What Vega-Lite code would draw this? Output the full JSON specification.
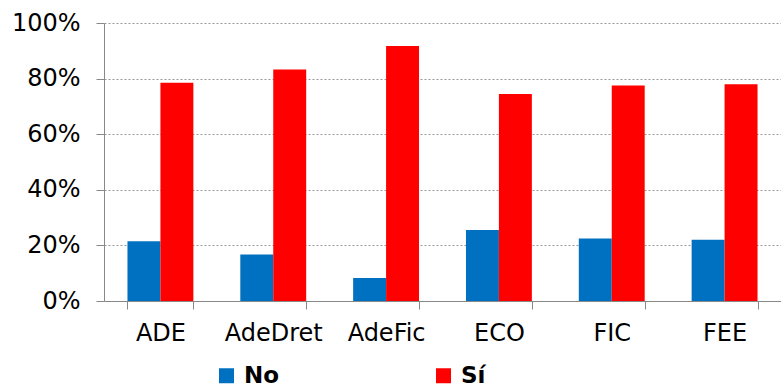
{
  "$schema": "https://vega.github.io/schema/vega-lite/v6.json",
  "width": 677,
  "height": 278,
  "autosize": {"type": "none"},
  "padding": {"left": 104, "top": 23, "right": 0, "bottom": 89},
  "config": {"view": {"stroke": null}, "font": "DejaVu Sans"},
  "data": {
    "values": [
      {"carrera": "ADE", "resp": "No", "pct": 0.215},
      {"carrera": "ADE", "resp": "Sí", "pct": 0.785},
      {"carrera": "AdeDret", "resp": "No", "pct": 0.167},
      {"carrera": "AdeDret", "resp": "Sí", "pct": 0.833},
      {"carrera": "AdeFic", "resp": "No", "pct": 0.083},
      {"carrera": "AdeFic", "resp": "Sí", "pct": 0.917},
      {"carrera": "ECO", "resp": "No", "pct": 0.255},
      {"carrera": "ECO", "resp": "Sí", "pct": 0.745},
      {"carrera": "FIC", "resp": "No", "pct": 0.225},
      {"carrera": "FIC", "resp": "Sí", "pct": 0.775},
      {"carrera": "FEE", "resp": "No", "pct": 0.22},
      {"carrera": "FEE", "resp": "Sí", "pct": 0.78}
    ]
  },
  "mark": {"type": "bar"},
  "encoding": {
    "x": {
      "field": "carrera",
      "type": "nominal",
      "sort": ["ADE", "AdeDret", "AdeFic", "ECO", "FIC", "FEE"],
      "scale": {"paddingInner": 0.416, "paddingOuter": 0.208},
      "axis": {
        "title": null,
        "labelAngle": 0,
        "tickBand": "extent",
        "labelFontSize": 24,
        "labelColor": "#000000",
        "domainColor": "#888888",
        "tickColor": "#888888",
        "tickSize": 8,
        "labelPadding": 12,
        "grid": false
      }
    },
    "xOffset": {"field": "resp", "sort": ["No", "Sí"]},
    "y": {
      "field": "pct",
      "type": "quantitative",
      "scale": {"domain": [0, 1]},
      "axis": {
        "title": null,
        "format": ".0%",
        "values": [0, 0.2, 0.4, 0.6, 0.8, 1],
        "labelFontSize": 24,
        "labelColor": "#000000",
        "domainColor": "#888888",
        "tickColor": "#888888",
        "tickSize": 8,
        "labelPadding": 16,
        "gridColor": "#999999",
        "gridDash": [2, 2]
      }
    },
    "color": {
      "field": "resp",
      "type": "nominal",
      "scale": {"domain": ["No", "Sí"], "range": ["#0070C0", "#FF0000"]},
      "legend": {
        "title": null,
        "orient": "none",
        "direction": "horizontal",
        "legendX": 111,
        "legendY": 341,
        "symbolType": "square",
        "symbolSize": 225,
        "symbolStrokeWidth": 0,
        "labelFontSize": 23,
        "labelFontWeight": "bold",
        "labelColor": "#000000",
        "labelOffset": 6,
        "columnPadding": 152
      }
    }
  }
}
